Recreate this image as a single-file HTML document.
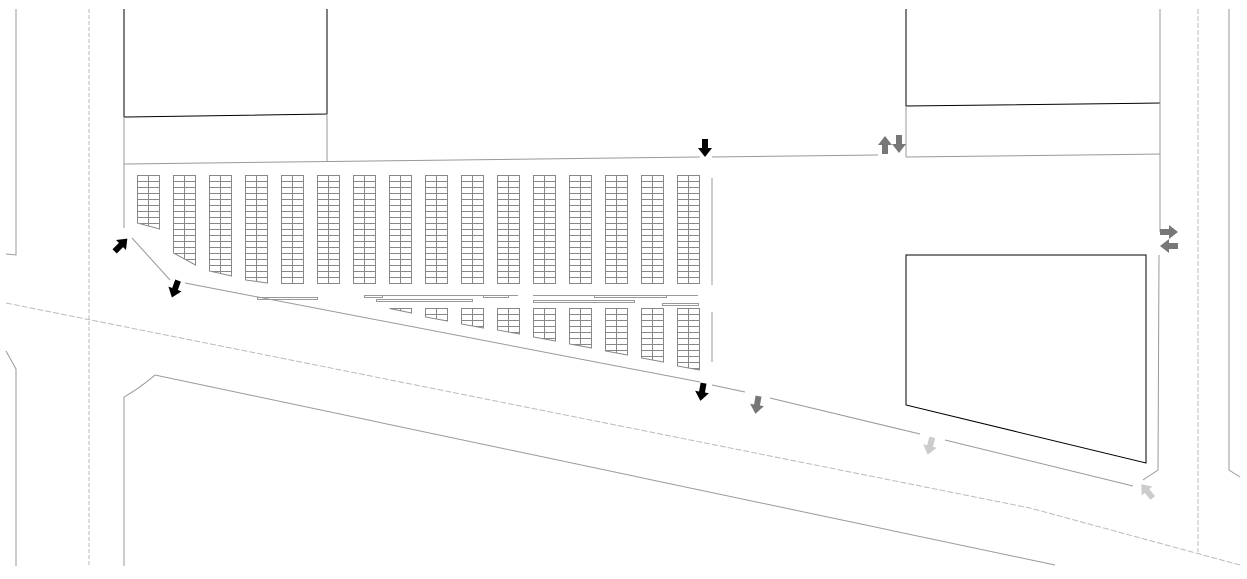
<!DOCTYPE html>
<html><head><meta charset="utf-8"><style>html,body{margin:0;padding:0;background:#fff;width:1247px;height:579px;overflow:hidden}</style></head>
<body>
<svg width="1247" height="579" viewBox="0 0 1247 579" xmlns="http://www.w3.org/2000/svg">
<defs>
<pattern id="pa" x="137" y="175" width="36" height="6" patternUnits="userSpaceOnUse">
<path d="M0 0.5H23M0.5 0V6M11.5 0V6M22.5 0V6" stroke="#888" stroke-width="1" fill="none"/>
</pattern>
<pattern id="pb" x="389" y="308" width="36" height="6" patternUnits="userSpaceOnUse">
<path d="M0 0.5H23M0.5 0V6M11.5 0V6M22.5 0V6" stroke="#888" stroke-width="1" fill="none"/>
</pattern>
<polygon id="ar" points="-3,-9 3,-9 3,0 7,0 0,9 -7,0 -3,0"/>
</defs>
<g fill="none" stroke="#999" stroke-width="1">
<polyline points="16,9 16,255 6,254"/>
<polyline points="6,351 16,369 16,566"/>
<line x1="89" y1="9" x2="89" y2="566" stroke="#bbb" stroke-dasharray="4,2"/>
<polyline points="6,303 1030,508 1240,565" stroke="#bbb" stroke-dasharray="6,2"/>
<path d="M124 566V397Q140 388 155 375L1055 565"/>
<polyline points="124,9 124,117 327,114 327,9" stroke="#000"/>
<line x1="124" y1="117" x2="124" y2="228"/>
<line x1="327" y1="114" x2="327" y2="162"/>
<polyline points="124,164 700,157"/>
<polyline points="712,157 878,155"/>
<polyline points="906,157 1160,154"/>
<polyline points="906,9 906,106 1160,103" stroke="#000"/>
<line x1="906" y1="106" x2="906" y2="157"/>
<line x1="1160" y1="9" x2="1160" y2="232"/>
<polyline points="1159,255 1158,470 1143,480"/>
<polygon points="906,255 1146,255 1146,463 906,405" stroke="#000"/>
<line x1="1198" y1="9" x2="1198" y2="552" stroke="#bbb" stroke-dasharray="5,2"/>
<polyline points="1229,9 1229,470 1240,477"/>
<line x1="132" y1="238" x2="170" y2="280"/>
<line x1="185" y1="283" x2="700" y2="382"/>
<line x1="712" y1="385" x2="745" y2="392"/>
<line x1="770" y1="398" x2="920" y2="434"/>
<line x1="945" y1="440" x2="1133" y2="486"/>
<line x1="712" y1="178" x2="712" y2="285"/>
<line x1="712" y1="312" x2="712" y2="362"/>
<line x1="383" y1="295.5" x2="518" y2="295.5"/>
<line x1="533" y1="295.5" x2="698" y2="295.5"/>
<rect x="257.5" y="297.5" width="60" height="2"/>
<rect x="364.5" y="295.5" width="18" height="2"/>
<rect x="376.5" y="299.5" width="96" height="2"/>
<rect x="483.5" y="295.5" width="25" height="2"/>
<rect x="533.5" y="300.5" width="101" height="2"/>
<rect x="594.5" y="295.5" width="72" height="2"/>
<rect x="662.5" y="303.5" width="36" height="2"/>
</g>
<g fill="url(#pa)" stroke="#888" stroke-width="1">
<polygon points="137.5,175.5 159.5,175.5 159.5,229 137.5,223"/>
<polygon points="173.5,175.5 195.5,175.5 195.5,265 173.5,253"/>
<polygon points="209.5,175.5 231.5,175.5 231.5,276 209.5,271"/>
<polygon points="245.5,175.5 267.5,175.5 267.5,283 245.5,280"/>
<rect x="281.5" y="175.5" width="22" height="108"/>
<rect x="317.5" y="175.5" width="22" height="108"/>
<rect x="353.5" y="175.5" width="22" height="108"/>
<rect x="389.5" y="175.5" width="22" height="108"/>
<rect x="425.5" y="175.5" width="22" height="108"/>
<rect x="461.5" y="175.5" width="22" height="108"/>
<rect x="497.5" y="175.5" width="22" height="108"/>
<rect x="533.5" y="175.5" width="22" height="108"/>
<rect x="569.5" y="175.5" width="22" height="108"/>
<rect x="605.5" y="175.5" width="22" height="108"/>
<rect x="641.5" y="175.5" width="22" height="108"/>
<rect x="677.5" y="175.5" width="22" height="108"/>
</g>
<g fill="url(#pb)" stroke="#888" stroke-width="1">
<polygon points="389.5,308.5 411.5,308.5 411.5,313"/>
<polygon points="425.5,308.5 447.5,308.5 447.5,321 425.5,317"/>
<polygon points="461.5,308.5 483.5,308.5 483.5,328 461.5,324"/>
<polygon points="497.5,308.5 519.5,308.5 519.5,334 497.5,330"/>
<polygon points="533.5,308.5 555.5,308.5 555.5,341 533.5,337"/>
<polygon points="569.5,308.5 591.5,308.5 591.5,348 569.5,344"/>
<polygon points="605.5,308.5 627.5,308.5 627.5,355 605.5,351"/>
<polygon points="641.5,308.5 663.5,308.5 663.5,362 641.5,358"/>
<polygon points="677.5,308.5 699.5,308.5 699.5,370 677.5,366"/>
</g>
<g fill="#000">
<use href="#ar" transform="translate(121,245) rotate(-135)"/>
<use href="#ar" transform="translate(175,289) rotate(20)"/>
<use href="#ar" transform="translate(705,148)"/>
<use href="#ar" transform="translate(702,392) rotate(10)"/>
</g>
<g fill="#777">
<use href="#ar" transform="translate(885,145) rotate(180)"/>
<use href="#ar" transform="translate(899,144)"/>
<use href="#ar" transform="translate(1169,232) rotate(-90)"/>
<use href="#ar" transform="translate(1169,246) rotate(90)"/>
<use href="#ar" transform="translate(757,405) rotate(10)"/>
</g>
<g fill="#ccc">
<use href="#ar" transform="translate(930,446) rotate(15)"/>
<use href="#ar" transform="translate(1147,491) rotate(140)"/>
</g>
</svg>
</body></html>
